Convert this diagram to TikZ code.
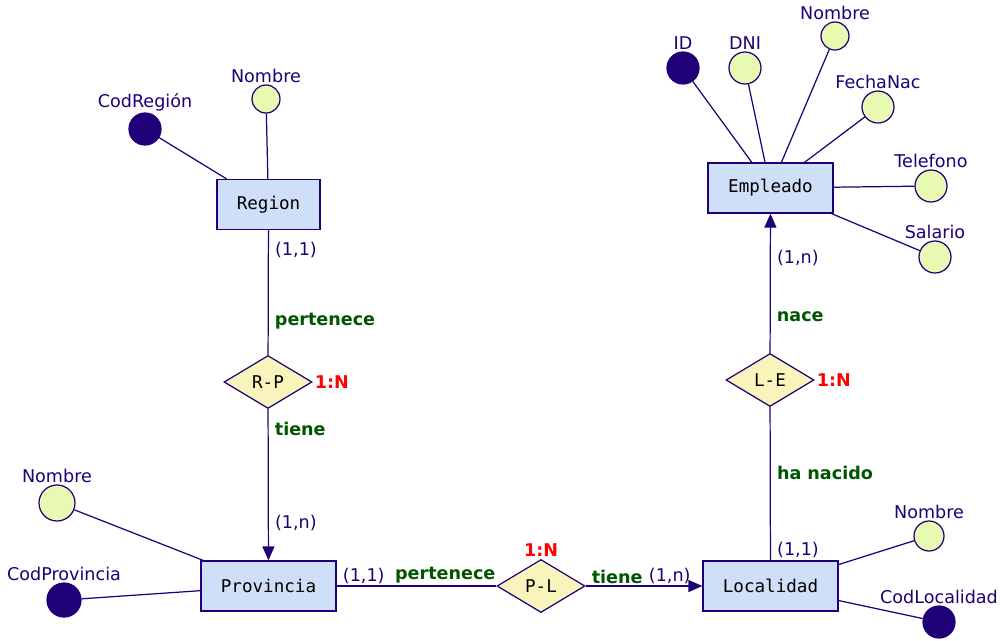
\documentclass[tikz,border=0pt]{standalone}
\usepackage{fontspec}
\setmainfont{DejaVu Sans}
\setmonofont{DejaVu Sans Mono}
\usetikzlibrary{shapes.geometric,arrows.meta}
\definecolor{tinta}{HTML}{1F0077}
\definecolor{entfill}{HTML}{CFDFF8}
\definecolor{relfill}{HTML}{F9F4BC}
\definecolor{atrfill}{HTML}{E8F9B2}
\definecolor{rolverde}{HTML}{005500}
\tikzset{
  entidad/.style={rectangle, draw=tinta, fill=entfill, font=\ttfamily, minimum height=1cm},
  relacion/.style={diamond, draw=tinta, fill=relfill, font=\ttfamily, minimum width=1.76cm, minimum height=1.06cm, inner sep=0pt},
  atributo/.style={circle, draw=tinta, fill=atrfill, minimum size=0.64cm, inner sep=0pt},
  clave/.style={circle, draw=tinta, fill=tinta, minimum size=0.64cm, inner sep=0pt},
  enlace/.style={draw=tinta},
  flecha/.style={draw=tinta, -{Triangle[length=0.28cm,width=0.24cm]}},
  card/.style={text=tinta, inner xsep=3.5pt, inner ysep=1pt},
  rol/.style={text=rolverde, font=\bfseries, inner xsep=3.5pt, inner ysep=1pt},
  tipo/.style={text=red, font=\bfseries, inner sep=1pt},
  every label/.style={text=tinta, inner sep=0.5pt},
}
\begin{document}
\begin{tikzpicture}[x=0.02cm, y=-0.02cm, line width=0.7pt]
    \useasboundingbox (0,0) rectangle (1000,640);
    % entidades
    \node[entidad, minimum width=2.06cm] (region) at (268.5,204.5) {Region};
    \node[entidad, minimum width=2.7cm] (provincia) at (268.5,586) {Provincia};
    \node[entidad, minimum width=2.7cm] (localidad) at (770.5,586) {Localidad};
    \node[entidad, minimum width=2.5cm] (empleado) at (770.5,188) {Empleado};
    % relaciones
    \node[relacion, label={[tipo]right:{1:N}}] (rp) at (268,382) {R-P};
    \node[relacion, label={[tipo]above:{1:N}}] (pl) at (541,586) {P-L};
    \node[relacion, label={[tipo]right:{1:N}}] (le) at (770,380) {L-E};
    % atributos
    \node[clave, label=above:CodRegión] (codreg) at (145,129) {};
    \node[atributo, minimum size=0.56cm, label=above:Nombre] (nomreg) at (266,99) {};
    \node[atributo, minimum size=0.72cm, label=above:Nombre] (nomprov) at (57,503) {};
    \node[clave, minimum size=0.68cm, label=above:CodProvincia] (codprov) at (64,600) {};
    \node[atributo, minimum size=0.6cm, label=above:Nombre] (nomloc) at (929,536) {};
    \node[clave, label=above:CodLocalidad] (codloc) at (939,622) {};
    \node[clave, label=above:ID] (id) at (683,68) {};
    \node[atributo, label=above:DNI] (dni) at (745,68) {};
    \node[atributo, minimum size=0.56cm, label=above:Nombre] (nomemp) at (835,36) {};
    \node[atributo, label=above:FechaNac] (fecha) at (878,107) {};
    \node[atributo, label=above:Telefono] (tel) at (931,186) {};
    \node[atributo, label=above:Salario] (sal) at (935,257) {};
    \path[enlace]%
      (codreg) edge (region)
      (nomreg) edge (region)
      (nomprov) edge (provincia)
      (codprov) edge (provincia)
      (nomloc) edge (localidad)
      (codloc) edge (localidad)
      (id) edge (empleado)
      (dni) edge (empleado)
      (nomemp) edge (empleado)
      (fecha) edge (empleado)
      (tel) edge (empleado)
      (sal) edge (empleado);
    % enlaces con cardinalidad
    \draw[enlace] (region) -- node[pos=.16, card, right] {(1,1)} node[pos=.73, rol, right] {pertenece} (rp);
    \draw[flecha] (rp) -- node[pos=.13, rol, right] {tiene} node[pos=.75, card, right] {(1,n)} (provincia);
    \draw[enlace] (provincia) -- node[pos=.17, card, above] {(1,1)} node[pos=.68, rol, above] {pertenece} (pl);
    \draw[flecha] (pl) -- node[pos=.27, rol, above] {tiene} node[pos=.72, card, above] {(1,n)} (localidad);
    \draw[enlace] (localidad) -- node[pos=.07, card, right] {(1,1)} node[pos=.57, rol, right] {ha nacido} (le);
    \draw[flecha] (le) -- node[pos=.26, rol, right] {nace} node[pos=.68, card, right] {(1,n)} (empleado);
\end{tikzpicture}
\end{document}
